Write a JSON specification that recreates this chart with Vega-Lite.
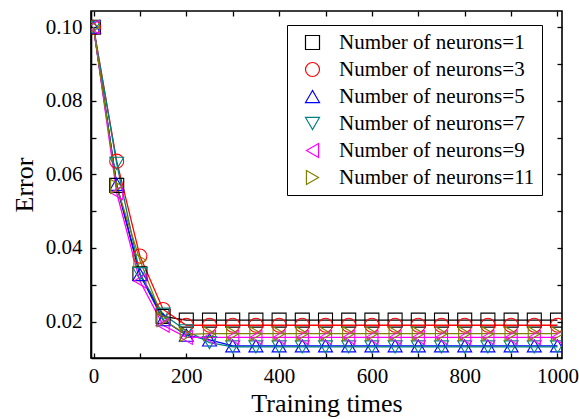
{
  "$schema": "https://vega.github.io/schema/vega-lite/v6.json",
  "width": 471,
  "height": 347,
  "autosize": "none",
  "padding": {"left": 91, "top": 11, "right": 17, "bottom": 61},
  "background": "white",
  "config": {
    "view": {"stroke": "black", "strokeWidth": 1.6},
    "font": "Liberation Serif",
    "style": {
      "guide-label": {"font": "Liberation Serif", "fill": "black"},
      "guide-title": {"font": "Liberation Serif", "fill": "black"}
    },
    "axis": {
      "grid": false,
      "domainColor": "black",
      "domainWidth": 1.6,
      "tickColor": "black",
      "tickWidth": 1.3,
      "tickSize": -5,
      "labelFont": "Liberation Serif",
      "labelFontSize": 21,
      "labelColor": "black",
      "labelOverlap": false,
      "titleFont": "Liberation Serif",
      "titleFontSize": 26,
      "titleFontWeight": "normal",
      "titleColor": "black"
    },
    "legend": {
      "labelFont": "Liberation Serif",
      "labelFontSize": 21,
      "labelColor": "black"
    }
  },
  "data": {
    "values": [
      {"n": "1", "x": 0, "y": 0.1}, {"n": "1", "x": 50, "y": 0.057}, {"n": "1", "x": 100, "y": 0.033}, {"n": "1", "x": 150, "y": 0.0214},
      {"n": "1", "x": 200, "y": 0.0204}, {"n": "1", "x": 250, "y": 0.0204}, {"n": "1", "x": 300, "y": 0.0204}, {"n": "1", "x": 350, "y": 0.0204},
      {"n": "1", "x": 400, "y": 0.0204}, {"n": "1", "x": 450, "y": 0.0204}, {"n": "1", "x": 500, "y": 0.0204}, {"n": "1", "x": 550, "y": 0.0204},
      {"n": "1", "x": 600, "y": 0.0204}, {"n": "1", "x": 650, "y": 0.0204}, {"n": "1", "x": 700, "y": 0.0204}, {"n": "1", "x": 750, "y": 0.0204},
      {"n": "1", "x": 800, "y": 0.0204}, {"n": "1", "x": 850, "y": 0.0204}, {"n": "1", "x": 900, "y": 0.0204}, {"n": "1", "x": 950, "y": 0.0204},
      {"n": "1", "x": 1000, "y": 0.0204},
      {"n": "3", "x": 0, "y": 0.1}, {"n": "3", "x": 50, "y": 0.0636}, {"n": "3", "x": 100, "y": 0.0378}, {"n": "3", "x": 150, "y": 0.0233},
      {"n": "3", "x": 200, "y": 0.019}, {"n": "3", "x": 250, "y": 0.019}, {"n": "3", "x": 300, "y": 0.019}, {"n": "3", "x": 350, "y": 0.019},
      {"n": "3", "x": 400, "y": 0.019}, {"n": "3", "x": 450, "y": 0.019}, {"n": "3", "x": 500, "y": 0.019}, {"n": "3", "x": 550, "y": 0.019},
      {"n": "3", "x": 600, "y": 0.019}, {"n": "3", "x": 650, "y": 0.019}, {"n": "3", "x": 700, "y": 0.019}, {"n": "3", "x": 750, "y": 0.019},
      {"n": "3", "x": 800, "y": 0.019}, {"n": "3", "x": 850, "y": 0.019}, {"n": "3", "x": 900, "y": 0.019}, {"n": "3", "x": 950, "y": 0.019},
      {"n": "3", "x": 1000, "y": 0.019},
      {"n": "5", "x": 0, "y": 0.1}, {"n": "5", "x": 50, "y": 0.0573}, {"n": "5", "x": 100, "y": 0.0328}, {"n": "5", "x": 150, "y": 0.0205},
      {"n": "5", "x": 200, "y": 0.0163}, {"n": "5", "x": 250, "y": 0.015}, {"n": "5", "x": 300, "y": 0.0134}, {"n": "5", "x": 350, "y": 0.0134},
      {"n": "5", "x": 400, "y": 0.0134}, {"n": "5", "x": 450, "y": 0.0134}, {"n": "5", "x": 500, "y": 0.0134}, {"n": "5", "x": 550, "y": 0.0134},
      {"n": "5", "x": 600, "y": 0.0134}, {"n": "5", "x": 650, "y": 0.0134}, {"n": "5", "x": 700, "y": 0.0134}, {"n": "5", "x": 750, "y": 0.0134},
      {"n": "5", "x": 800, "y": 0.0134}, {"n": "5", "x": 850, "y": 0.0134}, {"n": "5", "x": 900, "y": 0.0134}, {"n": "5", "x": 950, "y": 0.0134},
      {"n": "5", "x": 1000, "y": 0.0134},
      {"n": "7", "x": 0, "y": 0.1}, {"n": "7", "x": 50, "y": 0.063}, {"n": "7", "x": 100, "y": 0.033}, {"n": "7", "x": 150, "y": 0.022},
      {"n": "7", "x": 200, "y": 0.0175}, {"n": "7", "x": 250, "y": 0.0143}, {"n": "7", "x": 300, "y": 0.0131}, {"n": "7", "x": 350, "y": 0.0131},
      {"n": "7", "x": 400, "y": 0.0131}, {"n": "7", "x": 450, "y": 0.0131}, {"n": "7", "x": 500, "y": 0.0131}, {"n": "7", "x": 550, "y": 0.0131},
      {"n": "7", "x": 600, "y": 0.0131}, {"n": "7", "x": 650, "y": 0.0131}, {"n": "7", "x": 700, "y": 0.0131}, {"n": "7", "x": 750, "y": 0.0131},
      {"n": "7", "x": 800, "y": 0.0131}, {"n": "7", "x": 850, "y": 0.0131}, {"n": "7", "x": 900, "y": 0.0131}, {"n": "7", "x": 950, "y": 0.0131},
      {"n": "7", "x": 1000, "y": 0.0131},
      {"n": "9", "x": 0, "y": 0.1}, {"n": "9", "x": 50, "y": 0.055}, {"n": "9", "x": 100, "y": 0.031}, {"n": "9", "x": 150, "y": 0.019},
      {"n": "9", "x": 200, "y": 0.0157}, {"n": "9", "x": 250, "y": 0.0157}, {"n": "9", "x": 300, "y": 0.0157}, {"n": "9", "x": 350, "y": 0.0157},
      {"n": "9", "x": 400, "y": 0.0157}, {"n": "9", "x": 450, "y": 0.0157}, {"n": "9", "x": 500, "y": 0.0157}, {"n": "9", "x": 550, "y": 0.0157},
      {"n": "9", "x": 600, "y": 0.0157}, {"n": "9", "x": 650, "y": 0.0157}, {"n": "9", "x": 700, "y": 0.0157}, {"n": "9", "x": 750, "y": 0.0157},
      {"n": "9", "x": 800, "y": 0.0157}, {"n": "9", "x": 850, "y": 0.0157}, {"n": "9", "x": 900, "y": 0.0157}, {"n": "9", "x": 950, "y": 0.0157},
      {"n": "9", "x": 1000, "y": 0.0157},
      {"n": "11", "x": 0, "y": 0.1}, {"n": "11", "x": 50, "y": 0.0567}, {"n": "11", "x": 100, "y": 0.0367}, {"n": "11", "x": 150, "y": 0.0205},
      {"n": "11", "x": 200, "y": 0.0165}, {"n": "11", "x": 250, "y": 0.0167}, {"n": "11", "x": 300, "y": 0.0167}, {"n": "11", "x": 350, "y": 0.0167},
      {"n": "11", "x": 400, "y": 0.0167}, {"n": "11", "x": 450, "y": 0.0167}, {"n": "11", "x": 500, "y": 0.0167}, {"n": "11", "x": 550, "y": 0.0167},
      {"n": "11", "x": 600, "y": 0.0167}, {"n": "11", "x": 650, "y": 0.0167}, {"n": "11", "x": 700, "y": 0.0167}, {"n": "11", "x": 750, "y": 0.0167},
      {"n": "11", "x": 800, "y": 0.0167}, {"n": "11", "x": 850, "y": 0.0167}, {"n": "11", "x": 900, "y": 0.0167}, {"n": "11", "x": 950, "y": 0.0167},
      {"n": "11", "x": 1000, "y": 0.0167}
    ]
  },
  "layer": [
    {
      "mark": {"type": "line", "strokeWidth": 1.3, "clip": true},
      "encoding": {
        "x": {
          "field": "x", "type": "quantitative",
          "scale": {"domain": [-5.4, 1009.7], "nice": false, "zero": false},
          "axis": {
            "orient": "bottom",
            "title": "Training times",
            "values": [0, 100, 200, 300, 400, 500, 600, 700, 800, 900, 1000],
            "labelExpr": "datum.value % 200 == 0 ? datum.label : ''",
            "format": "d",
            "labelFont": "Liberation Serif",
            "labelPadding": 12,
            "titlePadding": 4
          }
        },
        "y": {
          "field": "y", "type": "quantitative",
          "scale": {"domain": [0.0101, 0.1044], "nice": false, "zero": false},
          "axis": {
            "orient": "left",
            "title": "Error",
            "values": [0.02, 0.03, 0.04, 0.05, 0.06, 0.07, 0.08, 0.09, 0.1],
            "labelExpr": "round(datum.value * 100) % 2 == 0 ? format(datum.value, '.2f') : ''",
            "labelFont": "Liberation Serif",
            "labelPadding": 14,
            "titlePadding": 8
          }
        },
        "color": {
          "field": "n", "type": "nominal",
          "scale": {"domain": ["1", "3", "5", "7", "9", "11"], "range": ["#000000", "#FF0000", "#0000FF", "#008080", "#FF00FF", "#808000"]},
          "legend": {
            "orient": "none", "legendX": 196, "legendY": 14,
            "title": null,
            "labelExpr": "'Number of neurons=' + datum.label",
            "labelFont": "Liberation Serif",
            "labelLimit": 400,
            "strokeColor": "black", "fillColor": "white",
            "padding": 7,
            "symbolSize": 196, "symbolStrokeWidth": 1.2, "symbolOffset": 8,
            "symbolFillColor": "transparent",
            "labelOffset": 16, "rowPadding": 5
          }
        },
        "detail": {"field": "n"}
      }
    },
    {
      "mark": {"type": "point", "filled": false, "size": 196, "strokeWidth": 1.1, "opacity": 1, "clip": true},
      "encoding": {
        "x": {
          "field": "x", "type": "quantitative",
          "axis": {
            "orient": "top", "title": null, "labels": false, "domain": false,
            "values": [0, 100, 200, 300, 400, 500, 600, 700, 800, 900, 1000]
          }
        },
        "y": {
          "field": "y", "type": "quantitative",
          "axis": {
            "orient": "right", "title": null, "labels": false, "domain": false,
            "values": [0.02, 0.03, 0.04, 0.05, 0.06, 0.07, 0.08, 0.09, 0.1]
          }
        },
        "color": {
          "field": "n", "type": "nominal",
          "legend": {
            "orient": "none", "legendX": 196, "legendY": 14,
            "title": null,
            "labelExpr": "'Number of neurons=' + datum.label",
            "labelFont": "Liberation Serif",
            "labelLimit": 400,
            "strokeColor": "black", "fillColor": "white",
            "padding": 7,
            "symbolSize": 196, "symbolStrokeWidth": 1.2, "symbolOffset": 8,
            "symbolFillColor": "transparent",
            "labelOffset": 16, "rowPadding": 5
          }
        },
        "shape": {
          "field": "n", "type": "nominal",
          "scale": {"domain": ["1", "3", "5", "7", "9", "11"], "range": ["square", "circle", "triangle-up", "triangle-down", "triangle-left", "triangle-right"]},
          "legend": {
            "orient": "none", "legendX": 196, "legendY": 14,
            "title": null,
            "labelExpr": "'Number of neurons=' + datum.label",
            "labelFont": "Liberation Serif",
            "labelLimit": 400,
            "strokeColor": "black", "fillColor": "white",
            "padding": 7,
            "symbolSize": 196, "symbolStrokeWidth": 1.2, "symbolOffset": 8,
            "symbolFillColor": "transparent",
            "labelOffset": 16, "rowPadding": 5
          }
        }
      }
    }
  ],
  "resolve": {"axis": {"x": "independent", "y": "independent"}}
}
